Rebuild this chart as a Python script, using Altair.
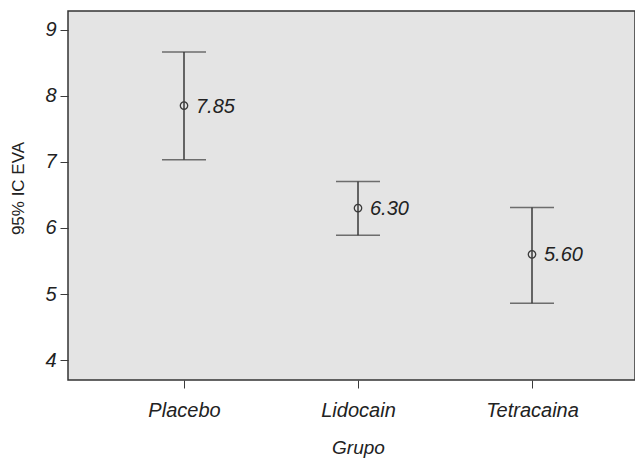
import altair as alt
import pandas as pd

grupos = ["Placebo", "Lidocain", "Tetracaina"]
medias = [7.85, 6.30, 5.60]
inferior = [7.03, 5.89, 4.86]
superior = [8.66, 6.70, 6.31]
etiquetas = ["7.85", "6.30", "5.60"]

df = pd.DataFrame({"Grupo": grupos, "media": medias, "lo": inferior,
                   "hi": superior, "lab": etiquetas})

FONT = "Liberation Sans"
LINE = "#3a3a3a"

x = alt.X("Grupo:N", sort=grupos,
          scale=alt.Scale(type="point", padding=0, range=[116, 464]),
          axis=alt.Axis(title="Grupo", labelAngle=0, labelFontStyle="italic",
                        titleFontStyle="italic", labelFontSize=20,
                        titleFontSize=19, titleFontWeight="normal",
                        labelPadding=12, titlePadding=18, tickSize=8,
                        tickColor=LINE, domain=False, labelColor="#222",
                        titleColor="#222", labelFont=FONT, titleFont=FONT))
yscale = alt.Scale(domain=[3.7, 9.28], nice=False, zero=False)
yaxis = alt.Axis(title="95% IC EVA", values=[4, 5, 6, 7, 8, 9], format="d",
                 labelFontStyle="italic", labelFontSize=20, titleFontSize=17,
                 titleFontWeight="normal", tickSize=8, tickColor=LINE,
                 domain=False, grid=False, labelPadding=4,
                 titleX=-50, titleY=177, titleAngle=270, titleAlign="center",
                 titleBaseline="middle",
                 labelColor="#222", titleColor="#222", labelFont=FONT,
                 titleFont=FONT)

base = alt.Chart(df)
rule = base.mark_rule(color=LINE, strokeWidth=1.5).encode(
    x=x, y=alt.Y("lo:Q", scale=yscale, axis=yaxis), y2="hi:Q")
cap_hi = base.mark_tick(color=LINE, size=44, thickness=1.5).encode(
    x=x, y=alt.Y("hi:Q", scale=yscale))
cap_lo = base.mark_tick(color=LINE, size=44, thickness=1.5).encode(
    x=x, y=alt.Y("lo:Q", scale=yscale))
pts = base.mark_point(shape="circle", size=55, filled=False, color=LINE,
                      strokeWidth=1.3, opacity=1).encode(
    x=x, y=alt.Y("media:Q", scale=yscale))
txt = base.mark_text(align="left", baseline="middle", dx=12, dy=1,
                     fontSize=20, fontStyle="italic", font=FONT,
                     color="#222").encode(
    x=x, y=alt.Y("media:Q", scale=yscale), text="lab:N")

chart = alt.layer(rule, cap_hi, cap_lo, pts, txt).properties(
    width=567, height=369,
    background="white",
    autosize=alt.AutoSizeParams(type="none"),
    padding={"left": 60, "top": 3, "right": 0, "bottom": 80},
).configure_view(fill="#e4e4e4", stroke="#333", strokeWidth=1.5)

chart.save("out.html", embed_options={"renderer": "svg", "actions": False})
